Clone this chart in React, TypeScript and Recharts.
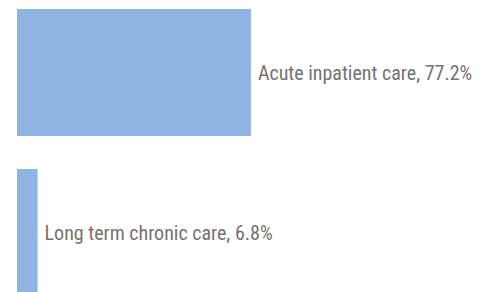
import { BarChart, Bar, XAxis, YAxis, LabelList } from 'recharts'

const categories = ['Acute inpatient care', 'Long term chronic care']
const shares = [77.2, 6.8]

const data = categories.map((name, i) => ({ name, share: shares[i] }))

function BarLabel(props: any) {
  const { x, y, width, height, index } = props
  const text = `${categories[index]}, ${shares[index]}%`
  return (
    <text
      x={x + width + 7}
      y={y + height / 2}
      dy="0.36em"
      fill="#767171"
      fontSize={20}
      fontFamily="'Liberation Sans Narrow', 'Roboto Condensed', 'DejaVu Sans Condensed', sans-serif"
    >
      {text}
    </text>
  )
}

export default function App() {
  return (
    <div style={{ position: 'fixed', top: 0, left: 0, width: 478, height: 292, overflow: 'hidden', background: '#fff' }}>
      <div style={{ position: 'absolute', top: -8, left: 0 }}>
        <BarChart
          width={478}
          height={320}
          data={data}
          layout="vertical"
          margin={{ top: 0, right: 158, bottom: 0, left: 17 }}
          barSize={127}
        >
          <XAxis type="number" domain={[0, 100]} hide />
          <YAxis type="category" dataKey="name" hide />
          <Bar dataKey="share" fill="#8EB4E3" isAnimationActive={false}>
            <LabelList dataKey="share" content={<BarLabel />} />
          </Bar>
        </BarChart>
      </div>
    </div>
  )
}
